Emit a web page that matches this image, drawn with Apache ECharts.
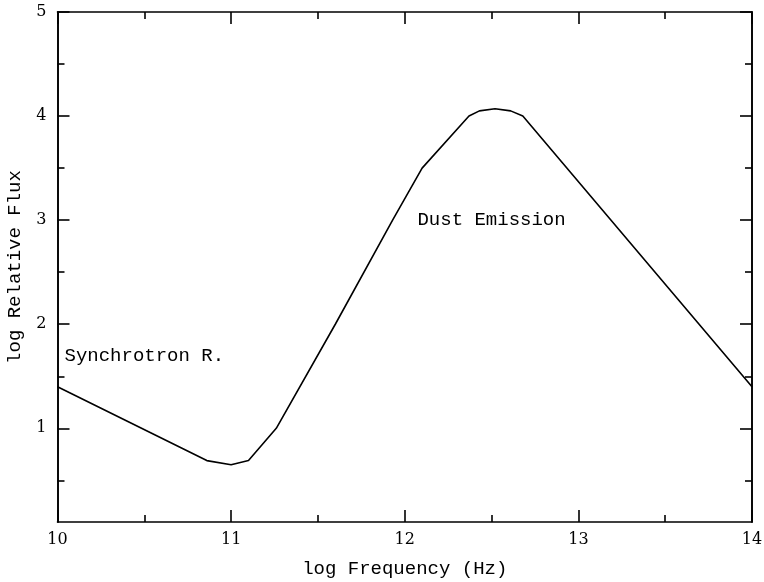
<!DOCTYPE html>
<html>
<head>
<meta charset="utf-8">
<script src="https://cdn.jsdelivr.net/npm/echarts@6/dist/echarts.min.js"></script>
<style>html,body{margin:0;padding:0;background:#fff}#c{width:764px;height:582px}</style>
</head>
<body>
<div id="c"></div>
<script>
const logFreq = [10, 10.86, 11, 11.1, 11.26, 11.6, 11.93, 12.1, 12.37, 12.43, 12.52, 12.61, 12.68, 14];
const logFlux = [1.4, 0.69, 0.65, 0.69, 1.0, 2.0, 3.0, 3.5, 4.0, 4.05, 4.07, 4.05, 4.0, 1.4];
const yMajorTicks = [1, 2, 3, 4, 5];
const yMinorTicks = [0.5, 1.5, 2.5, 3.5, 4.5];
const annotations = [
  { text: 'Synchrotron R.', x: 10.5, y: 1.7 },
  { text: 'Dust Emission', x: 12.5, y: 3.0 }
];

const FONT = '"Liberation Mono", "DejaVu Serif", monospace';
const TICKFONT = '"DejaVu Serif", serif';
const black = '#000';
const lineStyle = { color: black, width: 1.6 };

function xAx(pos, showLabel, showName) {
  return {
    type: 'value', position: pos, min: 10, max: 14, interval: 1,
    name: showName ? 'log Frequency (Hz)' : '', nameLocation: 'middle', nameGap: 37,
    nameTextStyle: { fontFamily: FONT, fontSize: 19, color: black },
    axisLine: { show: true, onZero: false, lineStyle },
    axisTick: { show: true, inside: true, length: 12, lineStyle },
    minorTick: { show: true, splitNumber: 2, length: 7, lineStyle },
    axisLabel: { show: showLabel, margin: 10, fontFamily: TICKFONT, fontSize: 16, color: black },
    splitLine: { show: false }
  };
}
function yAx(pos, ticks, len, showLabel, showName) {
  return {
    type: 'value', position: pos, min: 0.1, max: 5,
    name: showName ? 'log Relative Flux' : '', nameLocation: 'middle', nameGap: 33,
    nameTextStyle: { fontFamily: FONT, fontSize: 19, color: black },
    axisLine: { show: true, onZero: false, lineStyle },
    axisTick: { show: true, inside: true, length: len, customValues: ticks, lineStyle },
    axisLabel: { show: showLabel, margin: 11, customValues: yMajorTicks, fontFamily: TICKFONT, fontSize: 16, color: black },
    splitLine: { show: false }
  };
}

const option = {
  backgroundColor: '#fff',
  animation: false,
  grid: { left: 57.5, right: 12, top: 12, bottom: 60, outerBoundsMode: 'none', containLabel: false },
  xAxis: [xAx('bottom', true, true), xAx('top', false, false)],
  yAxis: [
    yAx('left', yMajorTicks, 12, true, true),
    yAx('right', yMajorTicks, 12, false, false),
    yAx('left', yMinorTicks, 7, false, false),
    yAx('right', yMinorTicks, 7, false, false)
  ],
  series: [{
    type: 'line',
    xAxisIndex: 0, yAxisIndex: 0,
    data: logFreq.map((x, i) => [x, logFlux[i]]),
    showSymbol: false,
    lineStyle: { color: black, width: 1.6 },
    markPoint: {
      symbol: 'circle', symbolSize: 0,
      label: { show: true, position: 'inside', fontFamily: FONT, fontSize: 19, color: black, formatter: p => p.name },
      data: annotations.map(a => ({ name: a.text, coord: [a.x, a.y] }))
    }
  }]
};
const chart = echarts.init(document.getElementById('c'), null, { renderer: 'canvas' });
chart.setOption(option);
</script>
</body>
</html>
